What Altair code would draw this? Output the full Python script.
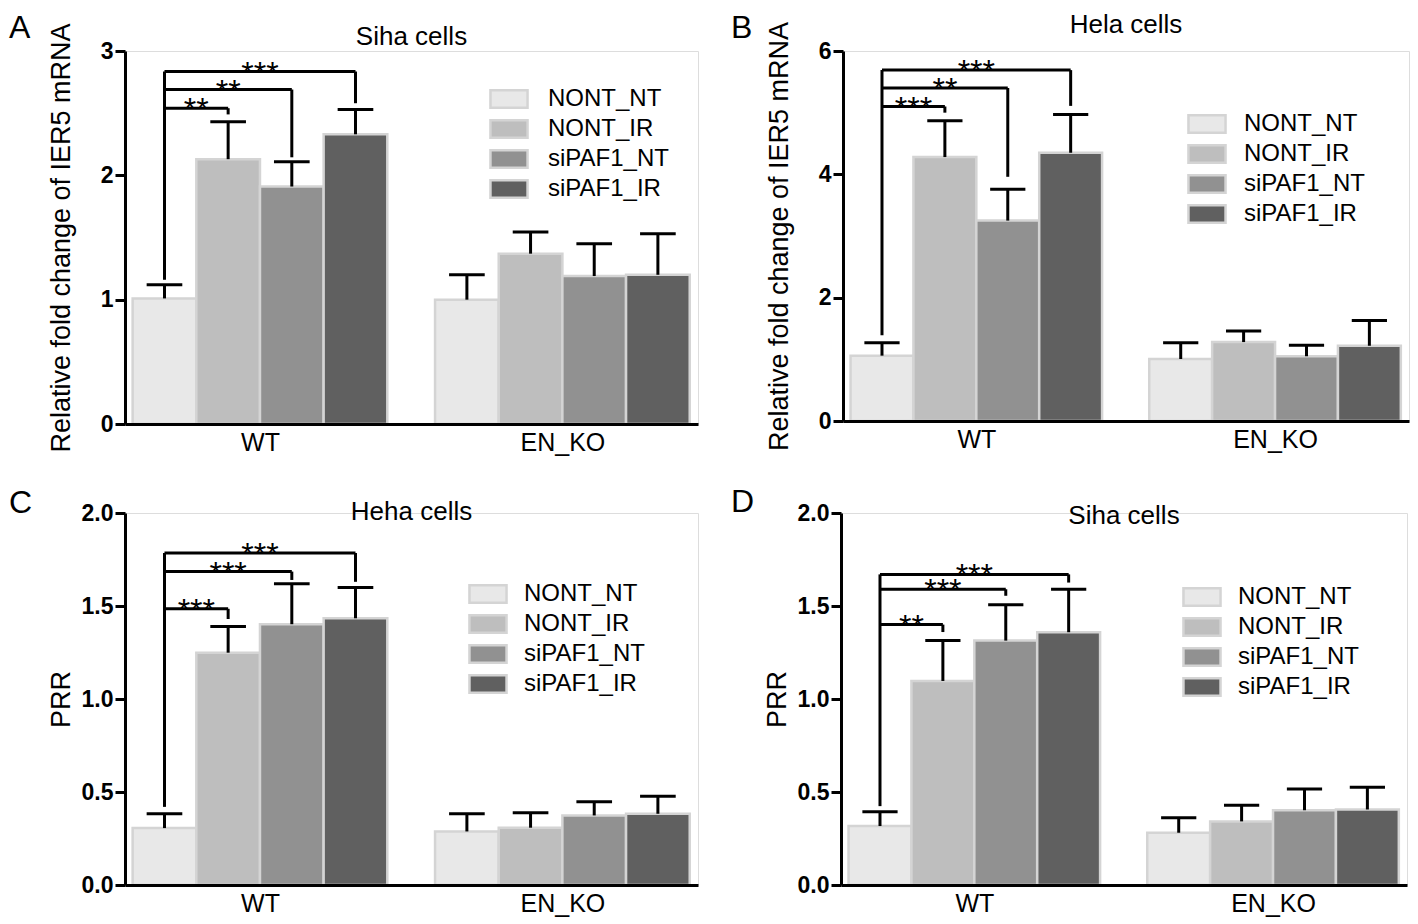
import altair as alt
import pandas as pd

conditions = ["NONT_NT", "NONT_IR", "siPAF1_NT", "siPAF1_IR"]
groups = ["WT", "EN_KO"]
bar_colors = ["#e8e8e8", "#bebebe", "#919191", "#606060"]
group_start = [0.12, 4.87]
x_domain = [0, 9.0]

# Panel A - Siha cells, IER5 mRNA
a_mean_wt = [1.01, 2.13, 1.91, 2.33]
a_top_wt = [1.12, 2.43, 2.11, 2.53]
a_mean_ko = [1.00, 1.37, 1.19, 1.20]
a_top_ko = [1.20, 1.545, 1.45, 1.53]
a_levels = [2.54, 2.69, 2.835]
a_signs = ["**", "**", "***"]
a_leg_right = [2.49, 2.145, 2.58]
a_leg_left = 1.16
a_ticks = [0, 1, 2, 3]

# Panel B - Hela cells, IER5 mRNA
b_mean_wt = [1.06, 4.28, 3.25, 4.35]
b_top_wt = [1.27, 4.87, 3.76, 4.97]
b_mean_ko = [1.005, 1.28, 1.05, 1.22]
b_top_ko = [1.27, 1.46, 1.23, 1.63]
b_levels = [5.10, 5.40, 5.69]
b_signs = ["***", "**", "***"]
b_leg_right = [5.0, 3.96, 5.11]
b_leg_left = 1.39
b_ticks = [0, 2, 4, 6]

# Panel C - Heha cells, PRR
c_mean_wt = [0.306, 1.249, 1.402, 1.434]
c_top_wt = [0.383, 1.39, 1.619, 1.60]
c_mean_ko = [0.288, 0.308, 0.374, 0.383]
c_top_ko = [0.383, 0.388, 0.448, 0.477]
c_levels = [1.485, 1.685, 1.785]
c_signs = ["***", "***", "***"]
c_leg_right = [1.43, 1.64, 1.63]
c_leg_left = 0.42
c_ticks = [0.0, 0.5, 1.0, 1.5, 2.0]

# Panel D - Siha cells, PRR
d_mean_wt = [0.317, 1.097, 1.314, 1.359]
d_top_wt = [0.394, 1.314, 1.507, 1.59]
d_mean_ko = [0.281, 0.342, 0.402, 0.406]
d_top_ko = [0.362, 0.429, 0.516, 0.525]
d_levels = [1.40, 1.59, 1.67]
d_signs = ["**", "***", "***"]
d_leg_right = [1.36, 1.555, 1.626]
d_leg_left = 0.424
d_ticks = [0.0, 0.5, 1.0, 1.5, 2.0]

FONT = "Liberation Sans, Arial, sans-serif"
SWATCH = "M-2.06,-0.97H2.06V0.97H-2.06Z"


def make_panel(letter, title, ytitle, ticks, fmt, means_wt, tops_wt, means_ko, tops_ko,
               levels, signs, leg_right, leg_left, width, height,
               legend_x, legend_y, label_offset, letter_x, letter_y, title_y):
    rows = []
    for g, (means, tops) in enumerate([(means_wt, tops_wt), (means_ko, tops_ko)]):
        for i, c in enumerate(conditions):
            x0 = group_start[g] + i
            rows.append({"group": groups[g], "condition": c, "mean": means[i], "top": tops[i],
                         "x0": x0, "x1": x0 + 1, "xc": x0 + 0.5,
                         "c0": x0 + 0.5 - 0.28, "c1": x0 + 0.5 + 0.28})
    bars = pd.DataFrame(rows)
    xl = group_start[0] + 0.5
    br = pd.DataFrame({
        "level": levels, "sign": signs, "leg": leg_right,
        "xl": [xl] * 3,
        "xr": [group_start[0] + k + 0.5 for k in (1, 2, 3)],
    })
    br["xm"] = (br["xl"] + br["xr"]) / 2
    left = pd.DataFrame({"x": [xl], "y": [leg_left], "y2": [max(levels)]})

    xscale = alt.Scale(domain=x_domain, nice=False, zero=False)
    yscale = alt.Scale(domain=[ticks[0], ticks[-1]], nice=False)
    xaxis = alt.Axis(values=[group_start[0] + 2, group_start[1] + 2],
                     labelExpr=f"datum.value < 4.5 ? '{groups[0]}' : '{groups[1]}'",
                     ticks=False, grid=False, domainColor="black", domainWidth=3,
                     labelFont=FONT, labelFontSize=25, labelColor="black",
                     labelPadding=6, labelAngle=0, title=None, zindex=1)
    yaxis = alt.Axis(values=ticks, format=fmt, grid=False, domainColor="black", domainWidth=3,
                     tickColor="black", tickWidth=3, tickSize=10,
                     labelFont=FONT, labelFontSize=23, labelFontWeight="bold",
                     labelColor="black", labelPadding=2,
                     title=ytitle, titleFont=FONT, titleFontSize=27, titleFontWeight="normal",
                     titleColor="black", titleX=-56, titleBaseline="alphabetic", zindex=1)

    X = lambda f: alt.X(f, type="quantitative", scale=xscale, axis=xaxis)
    Y = lambda f: alt.Y(f, type="quantitative", scale=yscale, axis=yaxis)

    bar_layer = alt.Chart(bars).mark_bar(stroke="#d4d4d4", strokeWidth=2.5).encode(
        x=X("x0"), x2="x1", y=Y("mean"), y2=alt.datum(0),
        fill=alt.Fill("condition:N", scale=alt.Scale(domain=conditions, range=bar_colors),
                      legend=alt.Legend(orient="none", legendX=legend_x, legendY=legend_y,
                                        title=None, symbolType=SWATCH, symbolSize=324,
                                        symbolStrokeColor="#d4d4d4", symbolStrokeWidth=2.5,
                                        symbolOpacity=1,
                                        labelFont=FONT, labelFontSize=24, labelColor="black",
                                        labelOffset=label_offset, rowPadding=2, padding=0,
                                        labelLimit=300)),
    )
    err_v = alt.Chart(bars).mark_rule(color="black", strokeWidth=3).encode(
        x=X("xc"), y=Y("mean"), y2="top")
    err_cap = alt.Chart(bars).mark_rule(color="black", strokeWidth=3).encode(
        x=X("c0"), x2="c1", y=Y("top"))
    br_h = alt.Chart(br).mark_rule(color="black", strokeWidth=3).encode(
        x=X("xl"), x2="xr", y=Y("level"))
    br_r = alt.Chart(br).mark_rule(color="black", strokeWidth=3).encode(
        x=X("xr"), y=Y("leg"), y2="level")
    br_l = alt.Chart(left).mark_rule(color="black", strokeWidth=3).encode(
        x=X("x"), y=Y("y"), y2="y2")
    stars = alt.Chart(br).mark_text(font=FONT, fontSize=32, color="black",
                                    baseline="alphabetic", dy=12).encode(
        x=X("xm"), y=Y("level"), text="sign:N")
    title_layer = alt.Chart(pd.DataFrame({"t": [title]})).mark_text(
        font=FONT, fontSize=26, color="black", baseline="middle", align="center").encode(
        x=alt.value(width / 2), y=alt.value(title_y), text="t:N")
    letter_layer = alt.Chart(pd.DataFrame({"t": [letter]})).mark_text(
        font=FONT, fontSize=32, color="black",
        baseline="alphabetic", align="left").encode(
        x=alt.value(letter_x), y=alt.value(letter_y), text="t:N")

    return alt.layer(bar_layer, err_v, err_cap, br_h, br_r, br_l, stars,
                     title_layer, letter_layer).properties(width=width, height=height)


ytitle_mrna = "Relative fold  change of IER5 mRNA"
pA = make_panel("A", "Siha cells", ytitle_mrna, a_ticks, "d", a_mean_wt, a_top_wt, a_mean_ko, a_top_ko,
                a_levels, a_signs, a_leg_right, a_leg_left, 573, 373,
                372, 36, 27, -116, -13, -14)
pB = make_panel("B", "Hela cells", ytitle_mrna, b_ticks, "d", b_mean_wt, b_top_wt, b_mean_ko, b_top_ko,
                b_levels, b_signs, b_leg_right, b_leg_left, 566, 370,
                352, 61, 25, -112, -13, -26)
pC = make_panel("C", "Heha cells", "PRR", c_ticks, ".1f", c_mean_wt, c_top_wt, c_mean_ko, c_top_ko,
                c_levels, c_signs, c_leg_right, c_leg_left, 573, 372,
                351, 69, 24, -116, 0, -1)
pD = make_panel("D", "Siha cells", "PRR", d_ticks, ".1f", d_mean_wt, d_top_wt, d_mean_ko, d_top_ko,
                d_levels, d_signs, d_leg_right, d_leg_left, 566, 372,
                349, 72, 24, -110, -1, 3)

row1 = alt.hconcat(pA, pB, spacing=31).resolve_scale(fill="independent").resolve_legend(fill="independent")
row2 = alt.hconcat(pC, pD, spacing=31).resolve_scale(fill="independent").resolve_legend(fill="independent")

chart = alt.vconcat(row1, row2, spacing=28).resolve_scale(
    fill="independent").resolve_legend(fill="independent").properties(
    padding={"top": 3, "left": 0, "right": 0, "bottom": 0}
).configure_view(stroke=None).configure(background="white")

chart.save("out.html", embed_options={"renderer": "svg", "actions": False})
